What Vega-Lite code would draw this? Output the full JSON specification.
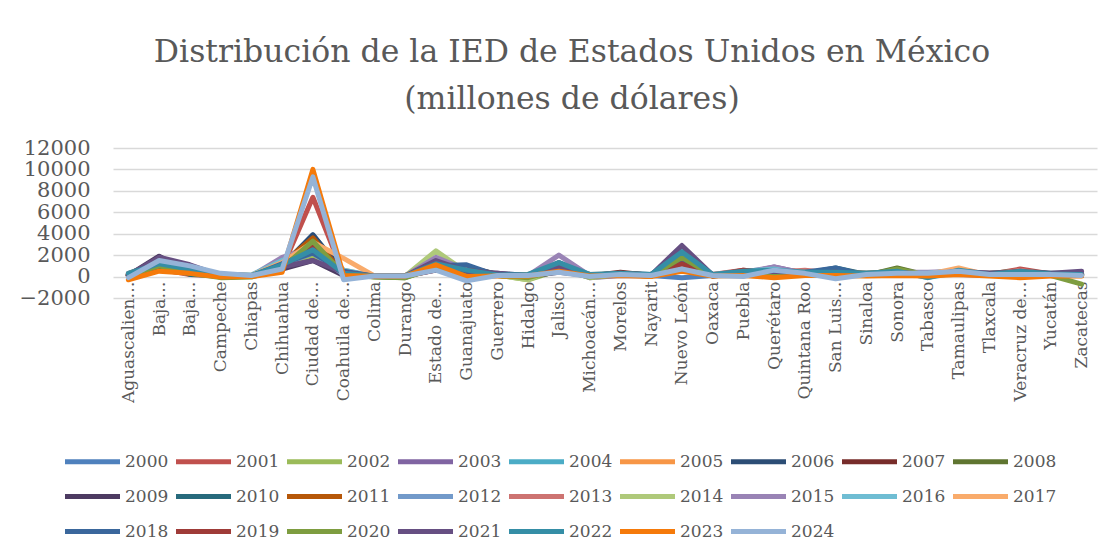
{
"$schema": "https://vega.github.io/schema/vega-lite/v6.json",
"width": 984,
"height": 150,
"autosize": "none",
"padding": {"left": 113, "top": 148, "right": 21, "bottom": 260},
"background": "white",
"title": {"text": ["Distribución de la IED de Estados Unidos en México", "(millones de dólares)"], "font": "DejaVu Serif", "fontSize": 31.5, "fontWeight": "normal", "color": "#595959", "lineHeight": 47, "anchor": "middle", "dx": -33, "offset": 22},
"data": {"values": [
{"estado":"Aguascalientes","anio":"2000","ied":150},{"estado":"Aguascalientes","anio":"2001","ied":80},{"estado":"Aguascalientes","anio":"2002","ied":120},{"estado":"Aguascalientes","anio":"2003","ied":60},{"estado":"Aguascalientes","anio":"2004","ied":100},{"estado":"Aguascalientes","anio":"2005","ied":200},{"estado":"Aguascalientes","anio":"2006","ied":90},{"estado":"Aguascalientes","anio":"2007","ied":150},{"estado":"Aguascalientes","anio":"2008","ied":50},{"estado":"Aguascalientes","anio":"2009","ied":120},{"estado":"Aguascalientes","anio":"2010","ied":300},{"estado":"Aguascalientes","anio":"2011","ied":180},{"estado":"Aguascalientes","anio":"2012","ied":100},{"estado":"Aguascalientes","anio":"2013","ied":60},{"estado":"Aguascalientes","anio":"2014","ied":200},{"estado":"Aguascalientes","anio":"2015","ied":150},{"estado":"Aguascalientes","anio":"2016","ied":100},{"estado":"Aguascalientes","anio":"2017","ied":250},{"estado":"Aguascalientes","anio":"2018","ied":200},{"estado":"Aguascalientes","anio":"2019","ied":150},{"estado":"Aguascalientes","anio":"2020","ied":100},{"estado":"Aguascalientes","anio":"2021","ied":120},{"estado":"Aguascalientes","anio":"2022","ied":280},{"estado":"Aguascalientes","anio":"2023","ied":-300},{"estado":"Aguascalientes","anio":"2024","ied":-100},
{"estado":"Baja California","anio":"2000","ied":900},{"estado":"Baja California","anio":"2001","ied":700},{"estado":"Baja California","anio":"2002","ied":800},{"estado":"Baja California","anio":"2003","ied":600},{"estado":"Baja California","anio":"2004","ied":1000},{"estado":"Baja California","anio":"2005","ied":1100},{"estado":"Baja California","anio":"2006","ied":900},{"estado":"Baja California","anio":"2007","ied":1200},{"estado":"Baja California","anio":"2008","ied":1000},{"estado":"Baja California","anio":"2009","ied":1900},{"estado":"Baja California","anio":"2010","ied":1300},{"estado":"Baja California","anio":"2011","ied":800},{"estado":"Baja California","anio":"2012","ied":700},{"estado":"Baja California","anio":"2013","ied":900},{"estado":"Baja California","anio":"2014","ied":1100},{"estado":"Baja California","anio":"2015","ied":1000},{"estado":"Baja California","anio":"2016","ied":900},{"estado":"Baja California","anio":"2017","ied":1200},{"estado":"Baja California","anio":"2018","ied":1000},{"estado":"Baja California","anio":"2019","ied":800},{"estado":"Baja California","anio":"2020","ied":1000},{"estado":"Baja California","anio":"2021","ied":1800},{"estado":"Baja California","anio":"2022","ied":1200},{"estado":"Baja California","anio":"2023","ied":500},{"estado":"Baja California","anio":"2024","ied":1500},
{"estado":"Baja California Sur","anio":"2000","ied":300},{"estado":"Baja California Sur","anio":"2001","ied":200},{"estado":"Baja California Sur","anio":"2002","ied":250},{"estado":"Baja California Sur","anio":"2003","ied":300},{"estado":"Baja California Sur","anio":"2004","ied":400},{"estado":"Baja California Sur","anio":"2005","ied":500},{"estado":"Baja California Sur","anio":"2006","ied":600},{"estado":"Baja California Sur","anio":"2007","ied":700},{"estado":"Baja California Sur","anio":"2008","ied":500},{"estado":"Baja California Sur","anio":"2009","ied":300},{"estado":"Baja California Sur","anio":"2010","ied":200},{"estado":"Baja California Sur","anio":"2011","ied":300},{"estado":"Baja California Sur","anio":"2012","ied":400},{"estado":"Baja California Sur","anio":"2013","ied":500},{"estado":"Baja California Sur","anio":"2014","ied":600},{"estado":"Baja California Sur","anio":"2015","ied":700},{"estado":"Baja California Sur","anio":"2016","ied":800},{"estado":"Baja California Sur","anio":"2017","ied":900},{"estado":"Baja California Sur","anio":"2018","ied":600},{"estado":"Baja California Sur","anio":"2019","ied":400},{"estado":"Baja California Sur","anio":"2020","ied":300},{"estado":"Baja California Sur","anio":"2021","ied":1100},{"estado":"Baja California Sur","anio":"2022","ied":700},{"estado":"Baja California Sur","anio":"2023","ied":300},{"estado":"Baja California Sur","anio":"2024","ied":1000},
{"estado":"Campeche","anio":"2000","ied":100},{"estado":"Campeche","anio":"2001","ied":50},{"estado":"Campeche","anio":"2002","ied":80},{"estado":"Campeche","anio":"2003","ied":120},{"estado":"Campeche","anio":"2004","ied":150},{"estado":"Campeche","anio":"2005","ied":200},{"estado":"Campeche","anio":"2006","ied":100},{"estado":"Campeche","anio":"2007","ied":50},{"estado":"Campeche","anio":"2008","ied":-50},{"estado":"Campeche","anio":"2009","ied":100},{"estado":"Campeche","anio":"2010","ied":150},{"estado":"Campeche","anio":"2011","ied":200},{"estado":"Campeche","anio":"2012","ied":250},{"estado":"Campeche","anio":"2013","ied":100},{"estado":"Campeche","anio":"2014","ied":50},{"estado":"Campeche","anio":"2015","ied":100},{"estado":"Campeche","anio":"2016","ied":150},{"estado":"Campeche","anio":"2017","ied":200},{"estado":"Campeche","anio":"2018","ied":100},{"estado":"Campeche","anio":"2019","ied":50},{"estado":"Campeche","anio":"2020","ied":-100},{"estado":"Campeche","anio":"2021","ied":100},{"estado":"Campeche","anio":"2022","ied":200},{"estado":"Campeche","anio":"2023","ied":-50},{"estado":"Campeche","anio":"2024","ied":300},
{"estado":"Chiapas","anio":"2000","ied":50},{"estado":"Chiapas","anio":"2001","ied":30},{"estado":"Chiapas","anio":"2002","ied":20},{"estado":"Chiapas","anio":"2003","ied":40},{"estado":"Chiapas","anio":"2004","ied":60},{"estado":"Chiapas","anio":"2005","ied":80},{"estado":"Chiapas","anio":"2006","ied":50},{"estado":"Chiapas","anio":"2007","ied":30},{"estado":"Chiapas","anio":"2008","ied":20},{"estado":"Chiapas","anio":"2009","ied":50},{"estado":"Chiapas","anio":"2010","ied":80},{"estado":"Chiapas","anio":"2011","ied":100},{"estado":"Chiapas","anio":"2012","ied":60},{"estado":"Chiapas","anio":"2013","ied":40},{"estado":"Chiapas","anio":"2014","ied":20},{"estado":"Chiapas","anio":"2015","ied":50},{"estado":"Chiapas","anio":"2016","ied":150},{"estado":"Chiapas","anio":"2017","ied":100},{"estado":"Chiapas","anio":"2018","ied":50},{"estado":"Chiapas","anio":"2019","ied":30},{"estado":"Chiapas","anio":"2020","ied":-50},{"estado":"Chiapas","anio":"2021","ied":80},{"estado":"Chiapas","anio":"2022","ied":100},{"estado":"Chiapas","anio":"2023","ied":0},{"estado":"Chiapas","anio":"2024","ied":100},
{"estado":"Chihuahua","anio":"2000","ied":900},{"estado":"Chihuahua","anio":"2001","ied":800},{"estado":"Chihuahua","anio":"2002","ied":700},{"estado":"Chihuahua","anio":"2003","ied":1000},{"estado":"Chihuahua","anio":"2004","ied":1100},{"estado":"Chihuahua","anio":"2005","ied":1200},{"estado":"Chihuahua","anio":"2006","ied":1000},{"estado":"Chihuahua","anio":"2007","ied":900},{"estado":"Chihuahua","anio":"2008","ied":800},{"estado":"Chihuahua","anio":"2009","ied":700},{"estado":"Chihuahua","anio":"2010","ied":1300},{"estado":"Chihuahua","anio":"2011","ied":1200},{"estado":"Chihuahua","anio":"2012","ied":1100},{"estado":"Chihuahua","anio":"2013","ied":900},{"estado":"Chihuahua","anio":"2014","ied":1400},{"estado":"Chihuahua","anio":"2015","ied":1800},{"estado":"Chihuahua","anio":"2016","ied":1500},{"estado":"Chihuahua","anio":"2017","ied":1300},{"estado":"Chihuahua","anio":"2018","ied":1200},{"estado":"Chihuahua","anio":"2019","ied":1000},{"estado":"Chihuahua","anio":"2020","ied":800},{"estado":"Chihuahua","anio":"2021","ied":900},{"estado":"Chihuahua","anio":"2022","ied":1100},{"estado":"Chihuahua","anio":"2023","ied":400},{"estado":"Chihuahua","anio":"2024","ied":700},
{"estado":"Ciudad de México","anio":"2000","ied":3900},{"estado":"Ciudad de México","anio":"2001","ied":7400},{"estado":"Ciudad de México","anio":"2002","ied":2000},{"estado":"Ciudad de México","anio":"2003","ied":3000},{"estado":"Ciudad de México","anio":"2004","ied":2500},{"estado":"Ciudad de México","anio":"2005","ied":3600},{"estado":"Ciudad de México","anio":"2006","ied":3900},{"estado":"Ciudad de México","anio":"2007","ied":2800},{"estado":"Ciudad de México","anio":"2008","ied":3300},{"estado":"Ciudad de México","anio":"2009","ied":1500},{"estado":"Ciudad de México","anio":"2010","ied":2500},{"estado":"Ciudad de México","anio":"2011","ied":3600},{"estado":"Ciudad de México","anio":"2012","ied":2200},{"estado":"Ciudad de México","anio":"2013","ied":2800},{"estado":"Ciudad de México","anio":"2014","ied":3000},{"estado":"Ciudad de México","anio":"2015","ied":2700},{"estado":"Ciudad de México","anio":"2016","ied":2400},{"estado":"Ciudad de México","anio":"2017","ied":3200},{"estado":"Ciudad de México","anio":"2018","ied":2200},{"estado":"Ciudad de México","anio":"2019","ied":2800},{"estado":"Ciudad de México","anio":"2020","ied":3300},{"estado":"Ciudad de México","anio":"2021","ied":1500},{"estado":"Ciudad de México","anio":"2022","ied":2500},{"estado":"Ciudad de México","anio":"2023","ied":10000},{"estado":"Ciudad de México","anio":"2024","ied":9300},
{"estado":"Coahuila de Zaragoza","anio":"2000","ied":300},{"estado":"Coahuila de Zaragoza","anio":"2001","ied":200},{"estado":"Coahuila de Zaragoza","anio":"2002","ied":400},{"estado":"Coahuila de Zaragoza","anio":"2003","ied":500},{"estado":"Coahuila de Zaragoza","anio":"2004","ied":300},{"estado":"Coahuila de Zaragoza","anio":"2005","ied":600},{"estado":"Coahuila de Zaragoza","anio":"2006","ied":400},{"estado":"Coahuila de Zaragoza","anio":"2007","ied":300},{"estado":"Coahuila de Zaragoza","anio":"2008","ied":200},{"estado":"Coahuila de Zaragoza","anio":"2009","ied":100},{"estado":"Coahuila de Zaragoza","anio":"2010","ied":500},{"estado":"Coahuila de Zaragoza","anio":"2011","ied":300},{"estado":"Coahuila de Zaragoza","anio":"2012","ied":200},{"estado":"Coahuila de Zaragoza","anio":"2013","ied":400},{"estado":"Coahuila de Zaragoza","anio":"2014","ied":300},{"estado":"Coahuila de Zaragoza","anio":"2015","ied":500},{"estado":"Coahuila de Zaragoza","anio":"2016","ied":600},{"estado":"Coahuila de Zaragoza","anio":"2017","ied":1700},{"estado":"Coahuila de Zaragoza","anio":"2018","ied":500},{"estado":"Coahuila de Zaragoza","anio":"2019","ied":300},{"estado":"Coahuila de Zaragoza","anio":"2020","ied":200},{"estado":"Coahuila de Zaragoza","anio":"2021","ied":400},{"estado":"Coahuila de Zaragoza","anio":"2022","ied":300},{"estado":"Coahuila de Zaragoza","anio":"2023","ied":100},{"estado":"Coahuila de Zaragoza","anio":"2024","ied":-300},
{"estado":"Colima","anio":"2000","ied":20},{"estado":"Colima","anio":"2001","ied":10},{"estado":"Colima","anio":"2002","ied":30},{"estado":"Colima","anio":"2003","ied":40},{"estado":"Colima","anio":"2004","ied":50},{"estado":"Colima","anio":"2005","ied":20},{"estado":"Colima","anio":"2006","ied":10},{"estado":"Colima","anio":"2007","ied":30},{"estado":"Colima","anio":"2008","ied":-20},{"estado":"Colima","anio":"2009","ied":10},{"estado":"Colima","anio":"2010","ied":50},{"estado":"Colima","anio":"2011","ied":60},{"estado":"Colima","anio":"2012","ied":30},{"estado":"Colima","anio":"2013","ied":20},{"estado":"Colima","anio":"2014","ied":10},{"estado":"Colima","anio":"2015","ied":40},{"estado":"Colima","anio":"2016","ied":50},{"estado":"Colima","anio":"2017","ied":60},{"estado":"Colima","anio":"2018","ied":30},{"estado":"Colima","anio":"2019","ied":20},{"estado":"Colima","anio":"2020","ied":-30},{"estado":"Colima","anio":"2021","ied":40},{"estado":"Colima","anio":"2022","ied":60},{"estado":"Colima","anio":"2023","ied":20},{"estado":"Colima","anio":"2024","ied":50},
{"estado":"Durango","anio":"2000","ied":50},{"estado":"Durango","anio":"2001","ied":30},{"estado":"Durango","anio":"2002","ied":40},{"estado":"Durango","anio":"2003","ied":60},{"estado":"Durango","anio":"2004","ied":80},{"estado":"Durango","anio":"2005","ied":100},{"estado":"Durango","anio":"2006","ied":50},{"estado":"Durango","anio":"2007","ied":30},{"estado":"Durango","anio":"2008","ied":-100},{"estado":"Durango","anio":"2009","ied":50},{"estado":"Durango","anio":"2010","ied":80},{"estado":"Durango","anio":"2011","ied":100},{"estado":"Durango","anio":"2012","ied":60},{"estado":"Durango","anio":"2013","ied":40},{"estado":"Durango","anio":"2014","ied":30},{"estado":"Durango","anio":"2015","ied":50},{"estado":"Durango","anio":"2016","ied":60},{"estado":"Durango","anio":"2017","ied":80},{"estado":"Durango","anio":"2018","ied":50},{"estado":"Durango","anio":"2019","ied":30},{"estado":"Durango","anio":"2020","ied":-100},{"estado":"Durango","anio":"2021","ied":60},{"estado":"Durango","anio":"2022","ied":80},{"estado":"Durango","anio":"2023","ied":30},{"estado":"Durango","anio":"2024","ied":50},
{"estado":"Estado de México","anio":"2000","ied":800},{"estado":"Estado de México","anio":"2001","ied":600},{"estado":"Estado de México","anio":"2002","ied":1200},{"estado":"Estado de México","anio":"2003","ied":900},{"estado":"Estado de México","anio":"2004","ied":700},{"estado":"Estado de México","anio":"2005","ied":1100},{"estado":"Estado de México","anio":"2006","ied":800},{"estado":"Estado de México","anio":"2007","ied":1000},{"estado":"Estado de México","anio":"2008","ied":900},{"estado":"Estado de México","anio":"2009","ied":600},{"estado":"Estado de México","anio":"2010","ied":700},{"estado":"Estado de México","anio":"2011","ied":800},{"estado":"Estado de México","anio":"2012","ied":900},{"estado":"Estado de México","anio":"2013","ied":1000},{"estado":"Estado de México","anio":"2014","ied":2400},{"estado":"Estado de México","anio":"2015","ied":1800},{"estado":"Estado de México","anio":"2016","ied":1200},{"estado":"Estado de México","anio":"2017","ied":1400},{"estado":"Estado de México","anio":"2018","ied":1000},{"estado":"Estado de México","anio":"2019","ied":900},{"estado":"Estado de México","anio":"2020","ied":800},{"estado":"Estado de México","anio":"2021","ied":1500},{"estado":"Estado de México","anio":"2022","ied":1200},{"estado":"Estado de México","anio":"2023","ied":1100},{"estado":"Estado de México","anio":"2024","ied":600},
{"estado":"Guanajuato","anio":"2000","ied":600},{"estado":"Guanajuato","anio":"2001","ied":400},{"estado":"Guanajuato","anio":"2002","ied":500},{"estado":"Guanajuato","anio":"2003","ied":700},{"estado":"Guanajuato","anio":"2004","ied":800},{"estado":"Guanajuato","anio":"2005","ied":500},{"estado":"Guanajuato","anio":"2006","ied":600},{"estado":"Guanajuato","anio":"2007","ied":900},{"estado":"Guanajuato","anio":"2008","ied":500},{"estado":"Guanajuato","anio":"2009","ied":300},{"estado":"Guanajuato","anio":"2010","ied":600},{"estado":"Guanajuato","anio":"2011","ied":700},{"estado":"Guanajuato","anio":"2012","ied":800},{"estado":"Guanajuato","anio":"2013","ied":500},{"estado":"Guanajuato","anio":"2014","ied":400},{"estado":"Guanajuato","anio":"2015","ied":600},{"estado":"Guanajuato","anio":"2016","ied":700},{"estado":"Guanajuato","anio":"2017","ied":500},{"estado":"Guanajuato","anio":"2018","ied":1100},{"estado":"Guanajuato","anio":"2019","ied":600},{"estado":"Guanajuato","anio":"2020","ied":400},{"estado":"Guanajuato","anio":"2021","ied":500},{"estado":"Guanajuato","anio":"2022","ied":600},{"estado":"Guanajuato","anio":"2023","ied":0},{"estado":"Guanajuato","anio":"2024","ied":-400},
{"estado":"Guerrero","anio":"2000","ied":200},{"estado":"Guerrero","anio":"2001","ied":100},{"estado":"Guerrero","anio":"2002","ied":150},{"estado":"Guerrero","anio":"2003","ied":200},{"estado":"Guerrero","anio":"2004","ied":250},{"estado":"Guerrero","anio":"2005","ied":100},{"estado":"Guerrero","anio":"2006","ied":150},{"estado":"Guerrero","anio":"2007","ied":200},{"estado":"Guerrero","anio":"2008","ied":100},{"estado":"Guerrero","anio":"2009","ied":300},{"estado":"Guerrero","anio":"2010","ied":200},{"estado":"Guerrero","anio":"2011","ied":150},{"estado":"Guerrero","anio":"2012","ied":100},{"estado":"Guerrero","anio":"2013","ied":200},{"estado":"Guerrero","anio":"2014","ied":150},{"estado":"Guerrero","anio":"2015","ied":100},{"estado":"Guerrero","anio":"2016","ied":200},{"estado":"Guerrero","anio":"2017","ied":150},{"estado":"Guerrero","anio":"2018","ied":100},{"estado":"Guerrero","anio":"2019","ied":200},{"estado":"Guerrero","anio":"2020","ied":100},{"estado":"Guerrero","anio":"2021","ied":300},{"estado":"Guerrero","anio":"2022","ied":150},{"estado":"Guerrero","anio":"2023","ied":50},{"estado":"Guerrero","anio":"2024","ied":100},
{"estado":"Hidalgo","anio":"2000","ied":100},{"estado":"Hidalgo","anio":"2001","ied":50},{"estado":"Hidalgo","anio":"2002","ied":-300},{"estado":"Hidalgo","anio":"2003","ied":100},{"estado":"Hidalgo","anio":"2004","ied":150},{"estado":"Hidalgo","anio":"2005","ied":100},{"estado":"Hidalgo","anio":"2006","ied":50},{"estado":"Hidalgo","anio":"2007","ied":100},{"estado":"Hidalgo","anio":"2008","ied":-100},{"estado":"Hidalgo","anio":"2009","ied":50},{"estado":"Hidalgo","anio":"2010","ied":100},{"estado":"Hidalgo","anio":"2011","ied":150},{"estado":"Hidalgo","anio":"2012","ied":100},{"estado":"Hidalgo","anio":"2013","ied":50},{"estado":"Hidalgo","anio":"2014","ied":-300},{"estado":"Hidalgo","anio":"2015","ied":100},{"estado":"Hidalgo","anio":"2016","ied":150},{"estado":"Hidalgo","anio":"2017","ied":200},{"estado":"Hidalgo","anio":"2018","ied":100},{"estado":"Hidalgo","anio":"2019","ied":50},{"estado":"Hidalgo","anio":"2020","ied":-100},{"estado":"Hidalgo","anio":"2021","ied":100},{"estado":"Hidalgo","anio":"2022","ied":200},{"estado":"Hidalgo","anio":"2023","ied":50},{"estado":"Hidalgo","anio":"2024","ied":100},
{"estado":"Jalisco","anio":"2000","ied":800},{"estado":"Jalisco","anio":"2001","ied":700},{"estado":"Jalisco","anio":"2002","ied":600},{"estado":"Jalisco","anio":"2003","ied":900},{"estado":"Jalisco","anio":"2004","ied":1000},{"estado":"Jalisco","anio":"2005","ied":800},{"estado":"Jalisco","anio":"2006","ied":700},{"estado":"Jalisco","anio":"2007","ied":600},{"estado":"Jalisco","anio":"2008","ied":500},{"estado":"Jalisco","anio":"2009","ied":400},{"estado":"Jalisco","anio":"2010","ied":1300},{"estado":"Jalisco","anio":"2011","ied":900},{"estado":"Jalisco","anio":"2012","ied":800},{"estado":"Jalisco","anio":"2013","ied":700},{"estado":"Jalisco","anio":"2014","ied":900},{"estado":"Jalisco","anio":"2015","ied":2000},{"estado":"Jalisco","anio":"2016","ied":1100},{"estado":"Jalisco","anio":"2017","ied":1000},{"estado":"Jalisco","anio":"2018","ied":900},{"estado":"Jalisco","anio":"2019","ied":800},{"estado":"Jalisco","anio":"2020","ied":600},{"estado":"Jalisco","anio":"2021","ied":800},{"estado":"Jalisco","anio":"2022","ied":1300},{"estado":"Jalisco","anio":"2023","ied":500},{"estado":"Jalisco","anio":"2024","ied":400},
{"estado":"Michoacán de Ocampo","anio":"2000","ied":100},{"estado":"Michoacán de Ocampo","anio":"2001","ied":50},{"estado":"Michoacán de Ocampo","anio":"2002","ied":80},{"estado":"Michoacán de Ocampo","anio":"2003","ied":-100},{"estado":"Michoacán de Ocampo","anio":"2004","ied":150},{"estado":"Michoacán de Ocampo","anio":"2005","ied":200},{"estado":"Michoacán de Ocampo","anio":"2006","ied":100},{"estado":"Michoacán de Ocampo","anio":"2007","ied":50},{"estado":"Michoacán de Ocampo","anio":"2008","ied":80},{"estado":"Michoacán de Ocampo","anio":"2009","ied":100},{"estado":"Michoacán de Ocampo","anio":"2010","ied":150},{"estado":"Michoacán de Ocampo","anio":"2011","ied":200},{"estado":"Michoacán de Ocampo","anio":"2012","ied":100},{"estado":"Michoacán de Ocampo","anio":"2013","ied":50},{"estado":"Michoacán de Ocampo","anio":"2014","ied":-100},{"estado":"Michoacán de Ocampo","anio":"2015","ied":100},{"estado":"Michoacán de Ocampo","anio":"2016","ied":150},{"estado":"Michoacán de Ocampo","anio":"2017","ied":200},{"estado":"Michoacán de Ocampo","anio":"2018","ied":100},{"estado":"Michoacán de Ocampo","anio":"2019","ied":50},{"estado":"Michoacán de Ocampo","anio":"2020","ied":-50},{"estado":"Michoacán de Ocampo","anio":"2021","ied":100},{"estado":"Michoacán de Ocampo","anio":"2022","ied":200},{"estado":"Michoacán de Ocampo","anio":"2023","ied":50},{"estado":"Michoacán de Ocampo","anio":"2024","ied":0},
{"estado":"Morelos","anio":"2000","ied":200},{"estado":"Morelos","anio":"2001","ied":300},{"estado":"Morelos","anio":"2002","ied":150},{"estado":"Morelos","anio":"2003","ied":100},{"estado":"Morelos","anio":"2004","ied":200},{"estado":"Morelos","anio":"2005","ied":250},{"estado":"Morelos","anio":"2006","ied":300},{"estado":"Morelos","anio":"2007","ied":400},{"estado":"Morelos","anio":"2008","ied":200},{"estado":"Morelos","anio":"2009","ied":100},{"estado":"Morelos","anio":"2010","ied":150},{"estado":"Morelos","anio":"2011","ied":200},{"estado":"Morelos","anio":"2012","ied":250},{"estado":"Morelos","anio":"2013","ied":300},{"estado":"Morelos","anio":"2014","ied":200},{"estado":"Morelos","anio":"2015","ied":150},{"estado":"Morelos","anio":"2016","ied":100},{"estado":"Morelos","anio":"2017","ied":200},{"estado":"Morelos","anio":"2018","ied":250},{"estado":"Morelos","anio":"2019","ied":300},{"estado":"Morelos","anio":"2020","ied":200},{"estado":"Morelos","anio":"2021","ied":150},{"estado":"Morelos","anio":"2022","ied":300},{"estado":"Morelos","anio":"2023","ied":100},{"estado":"Morelos","anio":"2024","ied":200},
{"estado":"Nayarit","anio":"2000","ied":100},{"estado":"Nayarit","anio":"2001","ied":150},{"estado":"Nayarit","anio":"2002","ied":100},{"estado":"Nayarit","anio":"2003","ied":50},{"estado":"Nayarit","anio":"2004","ied":100},{"estado":"Nayarit","anio":"2005","ied":150},{"estado":"Nayarit","anio":"2006","ied":200},{"estado":"Nayarit","anio":"2007","ied":100},{"estado":"Nayarit","anio":"2008","ied":50},{"estado":"Nayarit","anio":"2009","ied":100},{"estado":"Nayarit","anio":"2010","ied":150},{"estado":"Nayarit","anio":"2011","ied":200},{"estado":"Nayarit","anio":"2012","ied":100},{"estado":"Nayarit","anio":"2013","ied":50},{"estado":"Nayarit","anio":"2014","ied":100},{"estado":"Nayarit","anio":"2015","ied":150},{"estado":"Nayarit","anio":"2016","ied":200},{"estado":"Nayarit","anio":"2017","ied":100},{"estado":"Nayarit","anio":"2018","ied":50},{"estado":"Nayarit","anio":"2019","ied":100},{"estado":"Nayarit","anio":"2020","ied":50},{"estado":"Nayarit","anio":"2021","ied":150},{"estado":"Nayarit","anio":"2022","ied":200},{"estado":"Nayarit","anio":"2023","ied":0},{"estado":"Nayarit","anio":"2024","ied":100},
{"estado":"Nuevo León","anio":"2000","ied":-100},{"estado":"Nuevo León","anio":"2001","ied":1000},{"estado":"Nuevo León","anio":"2002","ied":800},{"estado":"Nuevo León","anio":"2003","ied":1200},{"estado":"Nuevo León","anio":"2004","ied":1500},{"estado":"Nuevo León","anio":"2005","ied":1000},{"estado":"Nuevo León","anio":"2006","ied":1300},{"estado":"Nuevo León","anio":"2007","ied":1100},{"estado":"Nuevo León","anio":"2008","ied":1800},{"estado":"Nuevo León","anio":"2009","ied":2000},{"estado":"Nuevo León","anio":"2010","ied":2300},{"estado":"Nuevo León","anio":"2011","ied":1400},{"estado":"Nuevo León","anio":"2012","ied":1200},{"estado":"Nuevo León","anio":"2013","ied":1000},{"estado":"Nuevo León","anio":"2014","ied":1300},{"estado":"Nuevo León","anio":"2015","ied":1500},{"estado":"Nuevo León","anio":"2016","ied":1600},{"estado":"Nuevo León","anio":"2017","ied":1800},{"estado":"Nuevo León","anio":"2018","ied":1400},{"estado":"Nuevo León","anio":"2019","ied":1200},{"estado":"Nuevo León","anio":"2020","ied":1800},{"estado":"Nuevo León","anio":"2021","ied":2900},{"estado":"Nuevo León","anio":"2022","ied":2300},{"estado":"Nuevo León","anio":"2023","ied":500},{"estado":"Nuevo León","anio":"2024","ied":700},
{"estado":"Oaxaca","anio":"2000","ied":100},{"estado":"Oaxaca","anio":"2001","ied":200},{"estado":"Oaxaca","anio":"2002","ied":100},{"estado":"Oaxaca","anio":"2003","ied":50},{"estado":"Oaxaca","anio":"2004","ied":100},{"estado":"Oaxaca","anio":"2005","ied":150},{"estado":"Oaxaca","anio":"2006","ied":100},{"estado":"Oaxaca","anio":"2007","ied":200},{"estado":"Oaxaca","anio":"2008","ied":100},{"estado":"Oaxaca","anio":"2009","ied":50},{"estado":"Oaxaca","anio":"2010","ied":100},{"estado":"Oaxaca","anio":"2011","ied":150},{"estado":"Oaxaca","anio":"2012","ied":200},{"estado":"Oaxaca","anio":"2013","ied":100},{"estado":"Oaxaca","anio":"2014","ied":50},{"estado":"Oaxaca","anio":"2015","ied":100},{"estado":"Oaxaca","anio":"2016","ied":150},{"estado":"Oaxaca","anio":"2017","ied":200},{"estado":"Oaxaca","anio":"2018","ied":100},{"estado":"Oaxaca","anio":"2019","ied":50},{"estado":"Oaxaca","anio":"2020","ied":100},{"estado":"Oaxaca","anio":"2021","ied":150},{"estado":"Oaxaca","anio":"2022","ied":200},{"estado":"Oaxaca","anio":"2023","ied":50},{"estado":"Oaxaca","anio":"2024","ied":100},
{"estado":"Puebla","anio":"2000","ied":300},{"estado":"Puebla","anio":"2001","ied":600},{"estado":"Puebla","anio":"2002","ied":200},{"estado":"Puebla","anio":"2003","ied":300},{"estado":"Puebla","anio":"2004","ied":400},{"estado":"Puebla","anio":"2005","ied":500},{"estado":"Puebla","anio":"2006","ied":300},{"estado":"Puebla","anio":"2007","ied":200},{"estado":"Puebla","anio":"2008","ied":400},{"estado":"Puebla","anio":"2009","ied":300},{"estado":"Puebla","anio":"2010","ied":500},{"estado":"Puebla","anio":"2011","ied":400},{"estado":"Puebla","anio":"2012","ied":300},{"estado":"Puebla","anio":"2013","ied":200},{"estado":"Puebla","anio":"2014","ied":300},{"estado":"Puebla","anio":"2015","ied":400},{"estado":"Puebla","anio":"2016","ied":500},{"estado":"Puebla","anio":"2017","ied":300},{"estado":"Puebla","anio":"2018","ied":200},{"estado":"Puebla","anio":"2019","ied":600},{"estado":"Puebla","anio":"2020","ied":300},{"estado":"Puebla","anio":"2021","ied":400},{"estado":"Puebla","anio":"2022","ied":500},{"estado":"Puebla","anio":"2023","ied":100},{"estado":"Puebla","anio":"2024","ied":0},
{"estado":"Querétaro","anio":"2000","ied":400},{"estado":"Querétaro","anio":"2001","ied":300},{"estado":"Querétaro","anio":"2002","ied":500},{"estado":"Querétaro","anio":"2003","ied":900},{"estado":"Querétaro","anio":"2004","ied":600},{"estado":"Querétaro","anio":"2005","ied":500},{"estado":"Querétaro","anio":"2006","ied":400},{"estado":"Querétaro","anio":"2007","ied":300},{"estado":"Querétaro","anio":"2008","ied":500},{"estado":"Querétaro","anio":"2009","ied":400},{"estado":"Querétaro","anio":"2010","ied":600},{"estado":"Querétaro","anio":"2011","ied":700},{"estado":"Querétaro","anio":"2012","ied":500},{"estado":"Querétaro","anio":"2013","ied":400},{"estado":"Querétaro","anio":"2014","ied":600},{"estado":"Querétaro","anio":"2015","ied":900},{"estado":"Querétaro","anio":"2016","ied":700},{"estado":"Querétaro","anio":"2017","ied":500},{"estado":"Querétaro","anio":"2018","ied":400},{"estado":"Querétaro","anio":"2019","ied":300},{"estado":"Querétaro","anio":"2020","ied":200},{"estado":"Querétaro","anio":"2021","ied":500},{"estado":"Querétaro","anio":"2022","ied":600},{"estado":"Querétaro","anio":"2023","ied":-100},{"estado":"Querétaro","anio":"2024","ied":600},
{"estado":"Quintana Roo","anio":"2000","ied":200},{"estado":"Quintana Roo","anio":"2001","ied":300},{"estado":"Quintana Roo","anio":"2002","ied":400},{"estado":"Quintana Roo","anio":"2003","ied":300},{"estado":"Quintana Roo","anio":"2004","ied":200},{"estado":"Quintana Roo","anio":"2005","ied":300},{"estado":"Quintana Roo","anio":"2006","ied":400},{"estado":"Quintana Roo","anio":"2007","ied":300},{"estado":"Quintana Roo","anio":"2008","ied":200},{"estado":"Quintana Roo","anio":"2009","ied":100},{"estado":"Quintana Roo","anio":"2010","ied":300},{"estado":"Quintana Roo","anio":"2011","ied":400},{"estado":"Quintana Roo","anio":"2012","ied":300},{"estado":"Quintana Roo","anio":"2013","ied":600},{"estado":"Quintana Roo","anio":"2014","ied":400},{"estado":"Quintana Roo","anio":"2015","ied":300},{"estado":"Quintana Roo","anio":"2016","ied":200},{"estado":"Quintana Roo","anio":"2017","ied":300},{"estado":"Quintana Roo","anio":"2018","ied":400},{"estado":"Quintana Roo","anio":"2019","ied":300},{"estado":"Quintana Roo","anio":"2020","ied":100},{"estado":"Quintana Roo","anio":"2021","ied":300},{"estado":"Quintana Roo","anio":"2022","ied":400},{"estado":"Quintana Roo","anio":"2023","ied":100},{"estado":"Quintana Roo","anio":"2024","ied":300},
{"estado":"San Luis Potosí","anio":"2000","ied":300},{"estado":"San Luis Potosí","anio":"2001","ied":200},{"estado":"San Luis Potosí","anio":"2002","ied":400},{"estado":"San Luis Potosí","anio":"2003","ied":300},{"estado":"San Luis Potosí","anio":"2004","ied":500},{"estado":"San Luis Potosí","anio":"2005","ied":400},{"estado":"San Luis Potosí","anio":"2006","ied":300},{"estado":"San Luis Potosí","anio":"2007","ied":200},{"estado":"San Luis Potosí","anio":"2008","ied":400},{"estado":"San Luis Potosí","anio":"2009","ied":300},{"estado":"San Luis Potosí","anio":"2010","ied":800},{"estado":"San Luis Potosí","anio":"2011","ied":500},{"estado":"San Luis Potosí","anio":"2012","ied":400},{"estado":"San Luis Potosí","anio":"2013","ied":300},{"estado":"San Luis Potosí","anio":"2014","ied":200},{"estado":"San Luis Potosí","anio":"2015","ied":400},{"estado":"San Luis Potosí","anio":"2016","ied":300},{"estado":"San Luis Potosí","anio":"2017","ied":500},{"estado":"San Luis Potosí","anio":"2018","ied":800},{"estado":"San Luis Potosí","anio":"2019","ied":400},{"estado":"San Luis Potosí","anio":"2020","ied":200},{"estado":"San Luis Potosí","anio":"2021","ied":300},{"estado":"San Luis Potosí","anio":"2022","ied":400},{"estado":"San Luis Potosí","anio":"2023","ied":100},{"estado":"San Luis Potosí","anio":"2024","ied":-200},
{"estado":"Sinaloa","anio":"2000","ied":100},{"estado":"Sinaloa","anio":"2001","ied":200},{"estado":"Sinaloa","anio":"2002","ied":150},{"estado":"Sinaloa","anio":"2003","ied":100},{"estado":"Sinaloa","anio":"2004","ied":200},{"estado":"Sinaloa","anio":"2005","ied":250},{"estado":"Sinaloa","anio":"2006","ied":300},{"estado":"Sinaloa","anio":"2007","ied":200},{"estado":"Sinaloa","anio":"2008","ied":100},{"estado":"Sinaloa","anio":"2009","ied":150},{"estado":"Sinaloa","anio":"2010","ied":200},{"estado":"Sinaloa","anio":"2011","ied":300},{"estado":"Sinaloa","anio":"2012","ied":200},{"estado":"Sinaloa","anio":"2013","ied":100},{"estado":"Sinaloa","anio":"2014","ied":150},{"estado":"Sinaloa","anio":"2015","ied":200},{"estado":"Sinaloa","anio":"2016","ied":300},{"estado":"Sinaloa","anio":"2017","ied":200},{"estado":"Sinaloa","anio":"2018","ied":100},{"estado":"Sinaloa","anio":"2019","ied":150},{"estado":"Sinaloa","anio":"2020","ied":100},{"estado":"Sinaloa","anio":"2021","ied":200},{"estado":"Sinaloa","anio":"2022","ied":300},{"estado":"Sinaloa","anio":"2023","ied":50},{"estado":"Sinaloa","anio":"2024","ied":200},
{"estado":"Sonora","anio":"2000","ied":300},{"estado":"Sonora","anio":"2001","ied":200},{"estado":"Sonora","anio":"2002","ied":400},{"estado":"Sonora","anio":"2003","ied":300},{"estado":"Sonora","anio":"2004","ied":500},{"estado":"Sonora","anio":"2005","ied":400},{"estado":"Sonora","anio":"2006","ied":300},{"estado":"Sonora","anio":"2007","ied":200},{"estado":"Sonora","anio":"2008","ied":800},{"estado":"Sonora","anio":"2009","ied":300},{"estado":"Sonora","anio":"2010","ied":400},{"estado":"Sonora","anio":"2011","ied":500},{"estado":"Sonora","anio":"2012","ied":400},{"estado":"Sonora","anio":"2013","ied":300},{"estado":"Sonora","anio":"2014","ied":200},{"estado":"Sonora","anio":"2015","ied":400},{"estado":"Sonora","anio":"2016","ied":300},{"estado":"Sonora","anio":"2017","ied":500},{"estado":"Sonora","anio":"2018","ied":400},{"estado":"Sonora","anio":"2019","ied":300},{"estado":"Sonora","anio":"2020","ied":700},{"estado":"Sonora","anio":"2021","ied":400},{"estado":"Sonora","anio":"2022","ied":500},{"estado":"Sonora","anio":"2023","ied":100},{"estado":"Sonora","anio":"2024","ied":300},
{"estado":"Tabasco","anio":"2000","ied":200},{"estado":"Tabasco","anio":"2001","ied":100},{"estado":"Tabasco","anio":"2002","ied":150},{"estado":"Tabasco","anio":"2003","ied":200},{"estado":"Tabasco","anio":"2004","ied":-100},{"estado":"Tabasco","anio":"2005","ied":100},{"estado":"Tabasco","anio":"2006","ied":200},{"estado":"Tabasco","anio":"2007","ied":150},{"estado":"Tabasco","anio":"2008","ied":100},{"estado":"Tabasco","anio":"2009","ied":200},{"estado":"Tabasco","anio":"2010","ied":300},{"estado":"Tabasco","anio":"2011","ied":200},{"estado":"Tabasco","anio":"2012","ied":100},{"estado":"Tabasco","anio":"2013","ied":150},{"estado":"Tabasco","anio":"2014","ied":200},{"estado":"Tabasco","anio":"2015","ied":400},{"estado":"Tabasco","anio":"2016","ied":300},{"estado":"Tabasco","anio":"2017","ied":200},{"estado":"Tabasco","anio":"2018","ied":100},{"estado":"Tabasco","anio":"2019","ied":150},{"estado":"Tabasco","anio":"2020","ied":100},{"estado":"Tabasco","anio":"2021","ied":200},{"estado":"Tabasco","anio":"2022","ied":-100},{"estado":"Tabasco","anio":"2023","ied":50},{"estado":"Tabasco","anio":"2024","ied":300},
{"estado":"Tamaulipas","anio":"2000","ied":300},{"estado":"Tamaulipas","anio":"2001","ied":400},{"estado":"Tamaulipas","anio":"2002","ied":300},{"estado":"Tamaulipas","anio":"2003","ied":200},{"estado":"Tamaulipas","anio":"2004","ied":400},{"estado":"Tamaulipas","anio":"2005","ied":500},{"estado":"Tamaulipas","anio":"2006","ied":600},{"estado":"Tamaulipas","anio":"2007","ied":400},{"estado":"Tamaulipas","anio":"2008","ied":300},{"estado":"Tamaulipas","anio":"2009","ied":200},{"estado":"Tamaulipas","anio":"2010","ied":400},{"estado":"Tamaulipas","anio":"2011","ied":500},{"estado":"Tamaulipas","anio":"2012","ied":600},{"estado":"Tamaulipas","anio":"2013","ied":400},{"estado":"Tamaulipas","anio":"2014","ied":300},{"estado":"Tamaulipas","anio":"2015","ied":500},{"estado":"Tamaulipas","anio":"2016","ied":600},{"estado":"Tamaulipas","anio":"2017","ied":800},{"estado":"Tamaulipas","anio":"2018","ied":500},{"estado":"Tamaulipas","anio":"2019","ied":400},{"estado":"Tamaulipas","anio":"2020","ied":300},{"estado":"Tamaulipas","anio":"2021","ied":500},{"estado":"Tamaulipas","anio":"2022","ied":600},{"estado":"Tamaulipas","anio":"2023","ied":200},{"estado":"Tamaulipas","anio":"2024","ied":500},
{"estado":"Tlaxcala","anio":"2000","ied":100},{"estado":"Tlaxcala","anio":"2001","ied":200},{"estado":"Tlaxcala","anio":"2002","ied":150},{"estado":"Tlaxcala","anio":"2003","ied":100},{"estado":"Tlaxcala","anio":"2004","ied":200},{"estado":"Tlaxcala","anio":"2005","ied":300},{"estado":"Tlaxcala","anio":"2006","ied":200},{"estado":"Tlaxcala","anio":"2007","ied":100},{"estado":"Tlaxcala","anio":"2008","ied":150},{"estado":"Tlaxcala","anio":"2009","ied":200},{"estado":"Tlaxcala","anio":"2010","ied":300},{"estado":"Tlaxcala","anio":"2011","ied":200},{"estado":"Tlaxcala","anio":"2012","ied":100},{"estado":"Tlaxcala","anio":"2013","ied":150},{"estado":"Tlaxcala","anio":"2014","ied":200},{"estado":"Tlaxcala","anio":"2015","ied":300},{"estado":"Tlaxcala","anio":"2016","ied":200},{"estado":"Tlaxcala","anio":"2017","ied":100},{"estado":"Tlaxcala","anio":"2018","ied":150},{"estado":"Tlaxcala","anio":"2019","ied":200},{"estado":"Tlaxcala","anio":"2020","ied":100},{"estado":"Tlaxcala","anio":"2021","ied":300},{"estado":"Tlaxcala","anio":"2022","ied":200},{"estado":"Tlaxcala","anio":"2023","ied":50},{"estado":"Tlaxcala","anio":"2024","ied":200},
{"estado":"Veracruz de Ignacio de la Llave","anio":"2000","ied":300},{"estado":"Veracruz de Ignacio de la Llave","anio":"2001","ied":700},{"estado":"Veracruz de Ignacio de la Llave","anio":"2002","ied":200},{"estado":"Veracruz de Ignacio de la Llave","anio":"2003","ied":300},{"estado":"Veracruz de Ignacio de la Llave","anio":"2004","ied":400},{"estado":"Veracruz de Ignacio de la Llave","anio":"2005","ied":500},{"estado":"Veracruz de Ignacio de la Llave","anio":"2006","ied":300},{"estado":"Veracruz de Ignacio de la Llave","anio":"2007","ied":200},{"estado":"Veracruz de Ignacio de la Llave","anio":"2008","ied":400},{"estado":"Veracruz de Ignacio de la Llave","anio":"2009","ied":300},{"estado":"Veracruz de Ignacio de la Llave","anio":"2010","ied":500},{"estado":"Veracruz de Ignacio de la Llave","anio":"2011","ied":400},{"estado":"Veracruz de Ignacio de la Llave","anio":"2012","ied":300},{"estado":"Veracruz de Ignacio de la Llave","anio":"2013","ied":600},{"estado":"Veracruz de Ignacio de la Llave","anio":"2014","ied":400},{"estado":"Veracruz de Ignacio de la Llave","anio":"2015","ied":300},{"estado":"Veracruz de Ignacio de la Llave","anio":"2016","ied":200},{"estado":"Veracruz de Ignacio de la Llave","anio":"2017","ied":400},{"estado":"Veracruz de Ignacio de la Llave","anio":"2018","ied":300},{"estado":"Veracruz de Ignacio de la Llave","anio":"2019","ied":500},{"estado":"Veracruz de Ignacio de la Llave","anio":"2020","ied":300},{"estado":"Veracruz de Ignacio de la Llave","anio":"2021","ied":400},{"estado":"Veracruz de Ignacio de la Llave","anio":"2022","ied":500},{"estado":"Veracruz de Ignacio de la Llave","anio":"2023","ied":-100},{"estado":"Veracruz de Ignacio de la Llave","anio":"2024","ied":200},
{"estado":"Yucatán","anio":"2000","ied":150},{"estado":"Yucatán","anio":"2001","ied":250},{"estado":"Yucatán","anio":"2002","ied":100},{"estado":"Yucatán","anio":"2003","ied":100},{"estado":"Yucatán","anio":"2004","ied":200},{"estado":"Yucatán","anio":"2005","ied":250},{"estado":"Yucatán","anio":"2006","ied":200},{"estado":"Yucatán","anio":"2007","ied":150},{"estado":"Yucatán","anio":"2008","ied":100},{"estado":"Yucatán","anio":"2009","ied":200},{"estado":"Yucatán","anio":"2010","ied":300},{"estado":"Yucatán","anio":"2011","ied":250},{"estado":"Yucatán","anio":"2012","ied":100},{"estado":"Yucatán","anio":"2013","ied":150},{"estado":"Yucatán","anio":"2014","ied":200},{"estado":"Yucatán","anio":"2015","ied":250},{"estado":"Yucatán","anio":"2016","ied":200},{"estado":"Yucatán","anio":"2017","ied":150},{"estado":"Yucatán","anio":"2018","ied":150},{"estado":"Yucatán","anio":"2019","ied":200},{"estado":"Yucatán","anio":"2020","ied":100},{"estado":"Yucatán","anio":"2021","ied":300},{"estado":"Yucatán","anio":"2022","ied":250},{"estado":"Yucatán","anio":"2023","ied":50},{"estado":"Yucatán","anio":"2024","ied":200},
{"estado":"Zacatecas","anio":"2000","ied":100},{"estado":"Zacatecas","anio":"2001","ied":200},{"estado":"Zacatecas","anio":"2002","ied":150},{"estado":"Zacatecas","anio":"2003","ied":100},{"estado":"Zacatecas","anio":"2004","ied":200},{"estado":"Zacatecas","anio":"2005","ied":300},{"estado":"Zacatecas","anio":"2006","ied":200},{"estado":"Zacatecas","anio":"2007","ied":100},{"estado":"Zacatecas","anio":"2008","ied":100},{"estado":"Zacatecas","anio":"2009","ied":200},{"estado":"Zacatecas","anio":"2010","ied":300},{"estado":"Zacatecas","anio":"2011","ied":200},{"estado":"Zacatecas","anio":"2012","ied":100},{"estado":"Zacatecas","anio":"2013","ied":150},{"estado":"Zacatecas","anio":"2014","ied":200},{"estado":"Zacatecas","anio":"2015","ied":300},{"estado":"Zacatecas","anio":"2016","ied":200},{"estado":"Zacatecas","anio":"2017","ied":100},{"estado":"Zacatecas","anio":"2018","ied":150},{"estado":"Zacatecas","anio":"2019","ied":200},{"estado":"Zacatecas","anio":"2020","ied":-700},{"estado":"Zacatecas","anio":"2021","ied":500},{"estado":"Zacatecas","anio":"2022","ied":200},{"estado":"Zacatecas","anio":"2023","ied":50},{"estado":"Zacatecas","anio":"2024","ied":100}
]},
"mark": {"type": "line", "strokeWidth": 5, "strokeJoin": "round", "strokeCap": "round"},
"encoding": {
"x": {"field": "estado", "type": "nominal", "title": null,
 "sort": ["Aguascalientes","Baja California","Baja California Sur","Campeche","Chiapas","Chihuahua","Ciudad de México","Coahuila de Zaragoza","Colima","Durango","Estado de México","Guanajuato","Guerrero","Hidalgo","Jalisco","Michoacán de Ocampo","Morelos","Nayarit","Nuevo León","Oaxaca","Puebla","Querétaro","Quintana Roo","San Luis Potosí","Sinaloa","Sonora","Tabasco","Tamaulipas","Tlaxcala","Veracruz de Ignacio de la Llave","Yucatán","Zacatecas"],
 "scale": {"type": "point", "padding": 0.5},
 "axis": {"offset": -21, "labelAngle": -90, "labelFont": "DejaVu Serif", "labelFontSize": 17, "labelColor": "#595959", "ticks": false, "domain": false, "grid": false, "labelPadding": 4, "labelLimit": 300,
  "labelExpr": "datum.value == 'Aguascalientes' ? 'Aguascalien…' : datum.value == 'Baja California' ? 'Baja…' : datum.value == 'Baja California Sur' ? 'Baja…' : datum.value == 'Ciudad de México' ? 'Ciudad de…' : datum.value == 'Coahuila de Zaragoza' ? 'Coahuila de…' : datum.value == 'Estado de México' ? 'Estado de…' : datum.value == 'Michoacán de Ocampo' ? 'Michoacán…' : datum.value == 'San Luis Potosí' ? 'San Luis…' : datum.value == 'Veracruz de Ignacio de la Llave' ? 'Veracruz de…' : datum.label"}},
"y": {"field": "ied", "type": "quantitative", "title": null,
 "scale": {"domain": [-2000, 12000], "nice": false, "zero": false},
 "axis": {"values": [-2000,0,2000,4000,6000,8000,10000,12000], "format": "d", "labelFont": "DejaVu Serif", "labelFontSize": 21, "labelColor": "#595959", "ticks": false, "domain": false, "gridColor": "#D9D9D9", "gridWidth": 1.5, "labelPadding": 23}},
"color": {"field": "anio", "type": "nominal",
 "scale": {"domain": ["2000","2001","2002","2003","2004","2005","2006","2007","2008","2009","2010","2011","2012","2013","2014","2015","2016","2017","2018","2019","2020","2021","2022","2023","2024"],
  "range": ["#4F81BD","#C0504D","#9BBB59","#8064A2","#4BACC6","#F79646","#2C4D75","#772C2A","#5F7530","#4D3B62","#276A7C","#B65708","#729ACA","#CD7371","#AFC97A","#9983B5","#6FBDD3","#F9AB6B","#3A679C","#9F3B38","#7E9D40","#664F82","#358EA6","#F57A0A","#95B3D7"]},
 "legend": {"orient": "none", "direction": "horizontal", "legendX": -51, "legendY": 305, "columns": 9, "title": null, "symbolType": "M-5,0H5", "symbolSize": 121, "symbolStrokeWidth": 5, "symbolOffset": 22, "labelFont": "DejaVu Serif", "labelFontSize": 17, "labelColor": "#595959", "labelOffset": 24, "columnPadding": -3, "rowPadding": 14}}
},
"config": {"view": {"stroke": null}}
}
